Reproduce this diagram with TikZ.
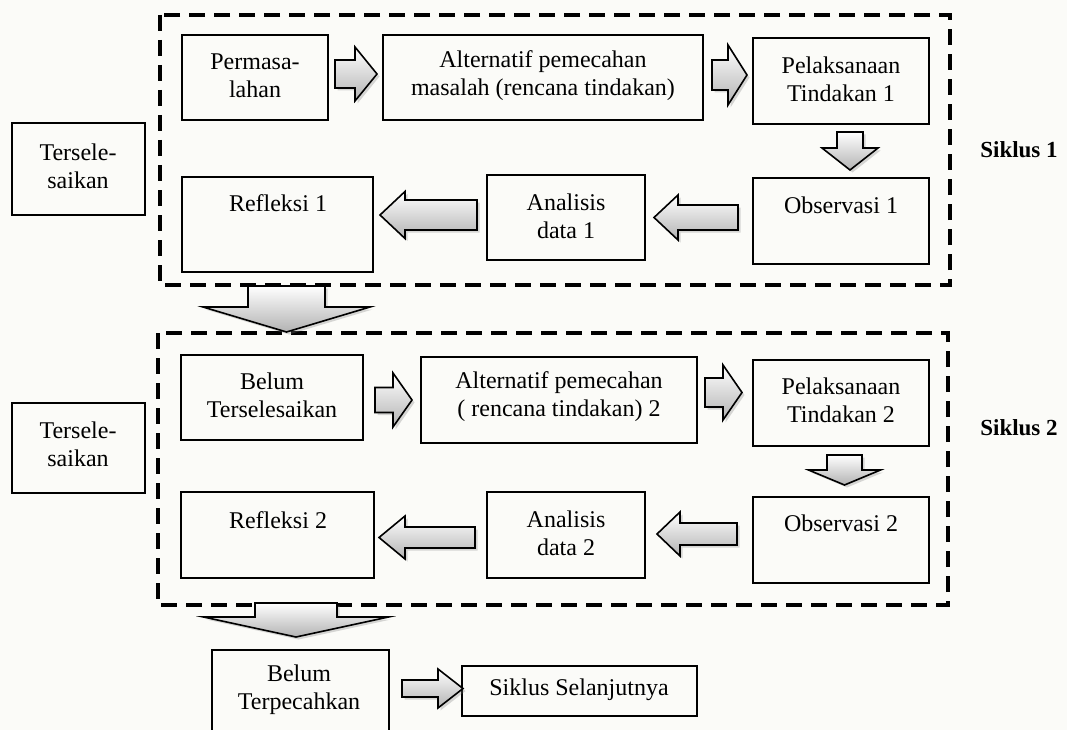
\documentclass[tikz,border=0pt]{standalone}
\usepackage{fontspec}
\setmainfont{Liberation Serif}
\usetikzlibrary{shadows}
\definecolor{bgc}{RGB}{251,251,248}
\newcommand\bx[6][box]{\node[#1, minimum width={#5-#3}, minimum height={#6-#4}, anchor=north west] (#2) at (#3,#4) {};}
\newcommand\harr[6]{\draw[blk] (#1,{#4-#5}) -- (#2,{#4-#5}) -- (#2,{#4-#6}) -- (#3,#4) -- (#2,{#4+#6}) -- (#2,{#4+#5}) -- (#1,{#4+#5}) -- cycle;}
\newcommand\varr[6]{\draw[blk] ({#1-#2},#4) -- ({#1-#2},#5) -- ({#1-#3},#5) -- (#1,#6) -- ({#1+#3},#5) -- ({#1+#2},#5) -- ({#1+#2},#4) -- cycle;}
\begin{document}
\begin{tikzpicture}[x=1pt,y=-1pt,
  box/.style={draw, line width=2.8pt, inner sep=0pt, outer sep=0pt},
  tbox/.style={draw, line width=1.6pt, inner sep=0pt, outer sep=0pt},
  txt/.style={align=center, font=\fontsize{24}{28}\selectfont, inner sep=0pt},
  btxt/.style={font=\fontsize{23}{27}\selectfont\bfseries, inner sep=0pt},
  blk/.style={draw=black, line width=1.6pt, line join=miter, top color=white, bottom color=gray!60,
    drop shadow={opacity=0.3, shadow xshift=2.5pt, shadow yshift=-2.5pt, fill=gray}},
  dbox/.style={draw, line width=3.5pt, dash pattern=on 16pt off 9pt}]
\fill[bgc] (0,0) rectangle (1067,730);
\useasboundingbox (0,0) rectangle (1067,730);

% dashed cycle frames
\draw[dbox] (160,15) rectangle (950,285);
\draw[dbox] (158,333) rectangle (948,605);

% cycle 1
\bx{p1}{182}{35}{328}{120}
\bx{a1}{383}{35}{703}{120}
\bx{pl1}{753}{38}{929}{124}
\bx{o1}{753}{178}{929}{264}
\bx{an1}{487}{175}{645}{260}
\bx{r1}{182}{177}{373}{272}
\node[txt] (tp1) at (255,76) {Permasa-\\lahan};
\node[txt] (ta1) at (543,76) {Alternatif pemecahan\\masalah (rencana tindakan)};
\node[txt] (tpl1) at (841,79) {Pelaksanaan\\Tindakan 1};
\node[txt] (to1) at (841,205) {Observasi 1};
\node[txt] (tan1) at (566,216) {Analisis\\data 1};
\node[txt] (tr1) at (278,203) {Refleksi 1};

% cycle 2
\bx{p2}{181}{355}{363}{440}
\bx{a2}{421}{357}{697}{443}
\bx{pl2}{753}{360}{929}{446}
\bx{o2}{753}{497}{929}{583}
\bx{an2}{487}{492}{645}{578}
\bx{r2}{181}{492}{374}{578}
\node[txt] (tp2) at (272,395) {Belum\\Terselesaikan};
\node[txt] (ta2) at (559,396.5) {Alternatif pemecahan\\( rencana tindakan) 2};
\node[txt] (tpl2) at (841,400) {Pelaksanaan\\Tindakan 2};
\node[txt] (to2) at (841,523) {Observasi 2};
\node[txt] (tan2) at (566,533) {Analisis\\data 2};
\node[txt] (tr2) at (278,520) {Refleksi 2};

% side boxes
\bx[tbox]{s1}{12}{123}{145}{215}
\bx[tbox]{s2}{12}{403}{145}{493}
\node[txt] (ts1) at (78,166) {Tersele-\\saikan};
\node[txt] (ts2) at (78,444) {Tersele-\\saikan};
\node[btxt] (c1) at (1019,150) {Siklus 1};
\node[btxt] (c2) at (1019,428) {Siklus 2};

% bottom
\bx{bt}{212}{650}{389}{745}
\bx[tbox]{sl}{462}{666}{697}{716}
\node[txt] (tbt) at (299,690) {Belum\\Terpecahkan};
\node[txt] (tsl) at (579,690) {Siklus Selanjutnya};

% block arrows
\harr{335}{355}{377}{74}{14}{27}
\harr{712}{728}{747}{75}{15}{30}
\varr{850}{13}{28}{132}{148}{170}
\harr{738}{678}{654}{217.5}{12.5}{22.5}
\harr{477}{405}{380}{215}{15}{23.5}
\varr{286.5}{38.5}{83.5}{286}{307}{332}
\harr{375}{393}{412}{400}{12.5}{27}
\harr{705}{723}{742}{392.5}{14.5}{27.5}
\varr{844.5}{17.5}{36}{455}{470}{485}
\harr{737}{680}{657}{534}{11}{22}
\harr{475}{405}{379}{537.5}{10.5}{21.5}
\varr{296}{41}{92.5}{603}{617}{637}
\harr{402}{438}{463}{688.5}{8.5}{19.5}
\end{tikzpicture}
\end{document}
